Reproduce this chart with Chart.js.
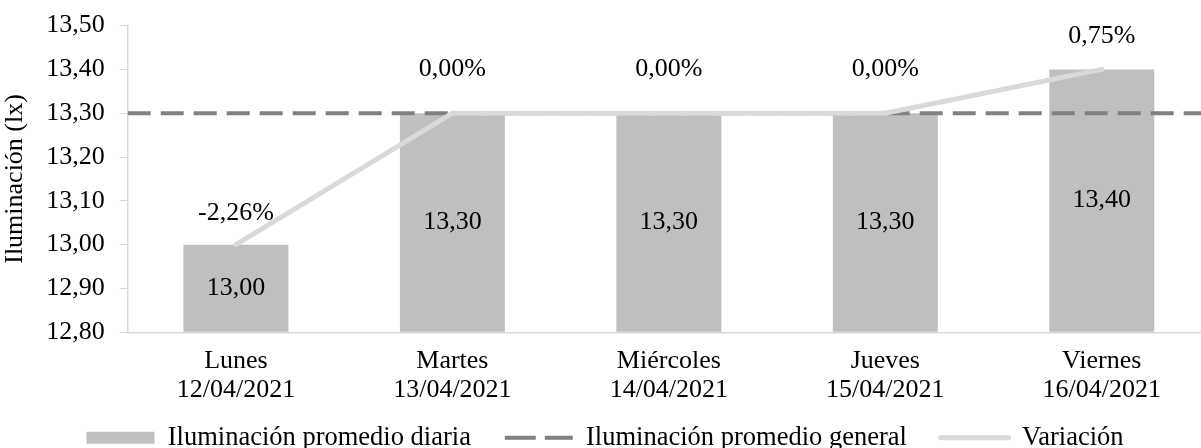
<!DOCTYPE html>
<html>
<head>
<meta charset="utf-8">
<script src="https://cdn.jsdelivr.net/npm/chart.js@4"></script>
<style>
  html, body { margin: 0; padding: 0; background: #fff; overflow: hidden; }
  canvas { display: block; margin-top: -5px; }
</style>
</head>
<body>
<canvas id="chart" width="1212" height="466"></canvas>
<script>
const days = [['Lunes', '12/04/2021'], ['Martes', '13/04/2021'], ['Miércoles', '14/04/2021'], ['Jueves', '15/04/2021'], ['Viernes', '16/04/2021']];
const dailyAverage = [13.00, 13.30, 13.30, 13.30, 13.40];
const generalAverage = 13.30;
const variation = [-2.26, 0.00, 0.00, 0.00, 0.75];
const yTicks = [12.80, 12.90, 13.00, 13.10, 13.20, 13.30, 13.40, 13.50];

const FONT = '"Liberation Serif", "Times New Roman", serif';
const comma = (v, d) => v.toFixed(d).replace('.', ',');

// lift of the % labels above each point (px)
const pctLift = [31, 44, 44, 44, 33];

const valueLabels = {
    id: 'valueLabels',
    afterDatasetsDraw(chart) {
        const ctx = chart.ctx;
        ctx.save();
        ctx.font = '26px ' + FONT;
        ctx.fillStyle = '#000';
        ctx.textAlign = 'center';
        ctx.textBaseline = 'middle';
        chart.getDatasetMeta(0).data.forEach((bar, i) => {
            ctx.fillText(comma(dailyAverage[i], 2), bar.x, (bar.y + bar.base) / 2);
        });
        chart.getDatasetMeta(2).data.forEach((pt, i) => {
            ctx.fillText(comma(variation[i], 2) + '%', pt.x, pt.y - pctLift[i]);
        });
        ctx.restore();
    }
};

const ctx = document.getElementById('chart').getContext('2d');
new Chart(ctx, {
    type: 'bar',
    data: {
        labels: days,
        datasets: [
            {
                label: 'Iluminación promedio diaria',
                data: [...dailyAverage],
                backgroundColor: '#bfbfbf',
                base: yTicks[0],
                grouped: false,
                barPercentage: 0.485,
                categoryPercentage: 1,
                order: 3
            },
            {
                type: 'line',
                label: 'Iluminación promedio general',
                data: [{ x: -0.5, y: generalAverage }, { x: days.length - 0.5, y: generalAverage }],
                xAxisID: 'x2',
                borderColor: '#808080',
                borderWidth: 4,
                borderDash: [23, 10],
                pointRadius: 0,
                fill: false,
                order: 2
            },
            {
                type: 'line',
                label: 'Variación',
                data: [...dailyAverage],
                borderColor: '#d9d9d9',
                borderWidth: 5,
                borderCapStyle: 'round',
                tension: 0,
                pointRadius: 0,
                fill: false,
                order: 1
            }
        ]
    },
    options: {
        responsive: false,
        animation: false,
        layout: { padding: { left: 0, right: 2, top: 2, bottom: 0 } },
        scales: {
            x: {
                offset: true,
                grid: { display: false },
                border: { display: true, color: '#d9d9d9', width: 1.5 },
                ticks: { color: '#000', font: { family: FONT, size: 26, lineHeight: 1.12 }, padding: 6, maxRotation: 0 }
            },
            x2: {
                type: 'linear',
                display: false,
                offset: false,
                grid: { offset: false },
                min: -0.5,
                max: days.length - 0.5
            },
            y: {
                min: yTicks[0],
                max: yTicks[yTicks.length - 1],
                afterBuildTicks: (axis) => { axis.ticks = yTicks.map(v => ({ value: v })); },
                grid: { drawOnChartArea: false, color: '#d9d9d9', tickLength: 8 },
                border: { color: '#d9d9d9', width: 1.5 },
                ticks: { color: '#000', font: { family: FONT, size: 26 }, padding: 15, callback: (v) => comma(v, 2) },
                title: { display: true, text: 'Iluminación (lx)', color: '#000', font: { family: FONT, size: 26 }, padding: { top: 0, bottom: 0 } }
            }
        },
        plugins: {
            tooltip: { enabled: false },
            legend: {
                position: 'bottom',
                labels: {
                    color: '#000',
                    font: { family: FONT, size: 26.5 },
                    usePointStyle: true,
                    pointStyleWidth: 68,
                    boxHeight: 12,
                    padding: 14,
                    generateLabels: (chart) => chart.data.datasets.map((ds, i) => ({
                        text: ds.label + (i < 2 ? '   ' : ''),
                        datasetIndex: i,
                        pointStyle: i === 0 ? 'rect' : 'line',
                        fillStyle: ds.type === 'line' ? 'rgba(0,0,0,0)' : ds.backgroundColor,
                        strokeStyle: ds.type === 'line' ? ds.borderColor : 'rgba(0,0,0,0)',
                        lineWidth: ds.type === 'line' ? ds.borderWidth : 0,
                        lineDash: ds.borderDash ? [31, 9] : [],
                        lineCap: ds.borderCapStyle || 'butt',
                        fontColor: '#000'
                    }))
                }
            }
        }
    },
    plugins: [valueLabels]
});
</script>
</body>
</html>
